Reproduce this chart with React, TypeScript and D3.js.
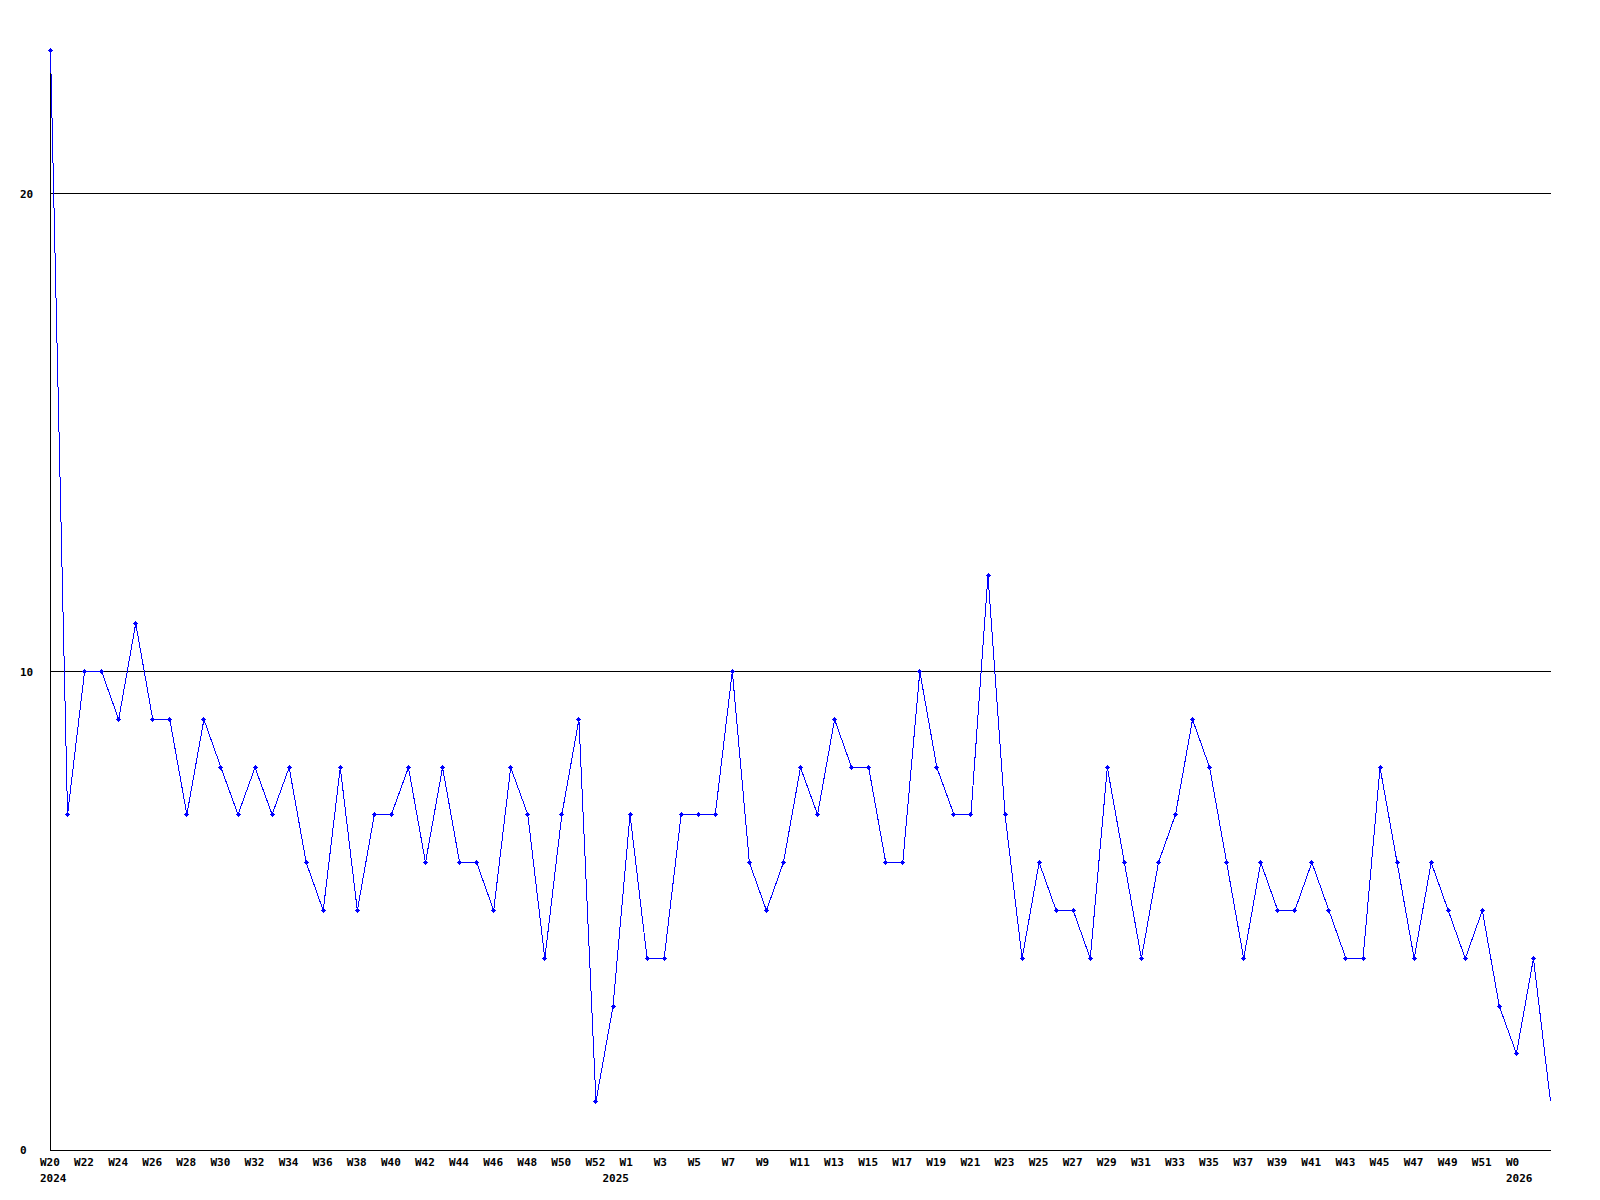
import React from "react";
import * as d3 from "d3";

const values: number[] = [
  23, 7, 10, 10, 9, 11, 9, 9, 7, 9, 8, 7, 8, 7, 8, 6, 5, 8, 5, 7, 7, 8, 6, 8, 6, 6, 5, 8, 7, 4, 7, 9, 1,
  3, 7, 4, 4, 7, 7, 7, 10, 6, 5, 6, 8, 7, 9, 8, 8, 6, 6, 10, 8, 7, 7, 12, 7, 4, 6, 5, 5, 4, 8, 6, 4, 6,
  7, 9, 8, 6, 4, 6, 5, 5, 6, 5, 4, 4, 8, 6, 4, 6, 5, 4, 5, 3, 2, 4, 1,
];

const weekLabels: { i: number; t: string }[] = [
  { i: 0, t: "W20" }, { i: 2, t: "W22" }, { i: 4, t: "W24" }, { i: 6, t: "W26" }, { i: 8, t: "W28" },
  { i: 10, t: "W30" }, { i: 12, t: "W32" }, { i: 14, t: "W34" }, { i: 16, t: "W36" }, { i: 18, t: "W38" },
  { i: 20, t: "W40" }, { i: 22, t: "W42" }, { i: 24, t: "W44" }, { i: 26, t: "W46" }, { i: 28, t: "W48" },
  { i: 30, t: "W50" }, { i: 32, t: "W52" }, { i: 34, t: "W1" }, { i: 36, t: "W3" }, { i: 38, t: "W5" },
  { i: 40, t: "W7" }, { i: 42, t: "W9" }, { i: 44, t: "W11" }, { i: 46, t: "W13" }, { i: 48, t: "W15" },
  { i: 50, t: "W17" }, { i: 52, t: "W19" }, { i: 54, t: "W21" }, { i: 56, t: "W23" }, { i: 58, t: "W25" },
  { i: 60, t: "W27" }, { i: 62, t: "W29" }, { i: 64, t: "W31" }, { i: 66, t: "W33" }, { i: 68, t: "W35" },
  { i: 70, t: "W37" }, { i: 72, t: "W39" }, { i: 74, t: "W41" }, { i: 76, t: "W43" }, { i: 78, t: "W45" },
  { i: 80, t: "W47" }, { i: 82, t: "W49" }, { i: 84, t: "W51" }, { i: 86, t: "W0" },
];

const yearLabels: { i: number; t: string }[] = [
  { i: 0, t: "2024" },
  { i: 33, t: "2025" },
  { i: 86, t: "2026" },
];

const yTicks = [0, 10, 20];

export default function App() {
  const x = d3.scaleLinear().domain([0, values.length - 1]).range([50.5, 1550.5]);
  const y = d3.scaleLinear().domain([0, 20]).range([1149.5, 193.5]);
  const line = d3
    .line<number>()
    .x((_, i) => x(i))
    .y((d) => Math.round(y(d) - 0.5) + 0.5);
  const font = "'DejaVu Sans Mono', monospace";
  const plotRight = 1551;

  return (
    <svg
      width={1600}
      height={1200}
      style={{ position: "absolute", left: 0, top: 0, background: "#fff" }}
    >
      <rect x={0} y={0} width={1600} height={1200} fill="#fff" />
      {yTicks
        .filter((t) => t > 0)
        .map((t) => (
          <line
            key={t}
            x1={50}
            x2={plotRight}
            y1={Math.round(y(t) - 0.5) + 0.5}
            y2={Math.round(y(t) - 0.5) + 0.5}
            stroke="#000"
            strokeWidth={1}
            shapeRendering="crispEdges"
          />
        ))}
      <line x1={50.5} x2={50.5} y1={73} y2={1151} stroke="#000" shapeRendering="crispEdges" />
      <line x1={50} x2={plotRight} y1={1150.5} y2={1150.5} stroke="#000" shapeRendering="crispEdges" />
      {yTicks.map((t) => (
        <text
          key={t}
          x={20}
          y={y(t) + 4}
          fontFamily={font}
          fontWeight="bold"
          fontSize={11}
          fill="#000"
        >
          {t}
        </text>
      ))}
      <path
        d={line(values) || ""}
        fill="none"
        stroke="#0000ff"
        strokeWidth={1}
        shapeRendering="crispEdges"
      />
      {values.map((v, i) => {
        const cx = Math.round(x(i) - 0.5);
        const cy = Math.round(y(v) - 0.5);
        if (cx + 2 >= plotRight) return null;
        return (
          <g key={i} fill="#0000ff" shapeRendering="crispEdges">
            <rect x={cx - 2} y={cy} width={5} height={1} />
            <rect x={cx} y={cy - 2} width={1} height={5} />
            <rect x={cx - 1} y={cy - 1} width={3} height={3} />
          </g>
        );
      })}
      {weekLabels.map((l) => (
        <text
          key={"w" + l.i}
          x={x(l.i) - 10.5}
          y={1166}
          fontFamily={font}
          fontWeight="bold"
          fontSize={11}
          fill="#000"
        >
          {l.t}
        </text>
      ))}
      {yearLabels.map((l) => (
        <text
          key={"y" + l.i}
          x={x(l.i) - 10.5}
          y={1182}
          fontFamily={font}
          fontWeight="bold"
          fontSize={11}
          fill="#000"
        >
          {l.t}
        </text>
      ))}
    </svg>
  );
}
